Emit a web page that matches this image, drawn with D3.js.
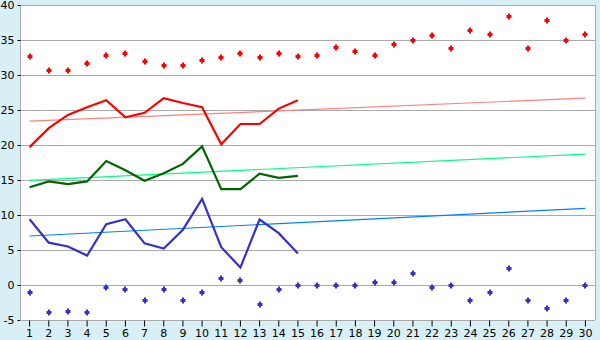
<!DOCTYPE html>
<html>
<head>
<meta charset="utf-8">
<script src="https://cdn.jsdelivr.net/npm/d3@7"></script>
<style>
  html, body { margin: 0; padding: 0; background: #d9eff6; }
  svg { display: block; }
  text { font-family: "DejaVu Sans", Verdana, sans-serif; font-size: 11px; fill: #000; }
</style>
</head>
<body>
<svg width="600" height="340"></svg>
<script>
// ---- data ----
const categories = [1,2,3,4,5,6,7,8,9,10,11,12,13,14,15,16,17,18,19,20,21,22,23,24,25,26,27,28,29,30];
const yTicks = [-5,0,5,10,15,20,25,30,35,40];

const redDots = [32.7,30.7,30.7,31.7,32.8,33.1,32.0,31.5,31.4,32.2,32.5,33.1,32.5,33.1,32.7,
                 32.8,34.0,33.4,32.8,34.4,35.0,35.7,33.8,36.4,35.8,38.4,33.8,37.8,35.0,35.8];
const redLine = [19.7,22.4,24.3,25.4,26.4,23.95,24.6,26.7,26.0,25.4,20.1,23.0,23.0,25.2,26.4];
const greenLine = [13.96,14.8,14.4,14.8,17.7,16.4,14.9,15.95,17.3,19.8,13.7,13.7,15.9,15.3,15.6];
const blueLine = [9.4,6.05,5.5,4.2,8.7,9.4,5.95,5.2,7.9,12.3,5.4,2.5,9.35,7.4,4.5];
const blueDots = [-1.05,-3.9,-3.76,-3.9,-0.33,-0.62,-2.2,-0.62,-2.2,-1.05,0.95,0.67,-2.76,-0.62,0,
                  0,0,0,0.38,0.38,1.67,-0.33,0,-2.2,-1.05,2.38,-2.2,-3.33,-2.2,0];

// trend lines: value at first and last category
const redTrend = [23.4, 26.7];
const greenTrend = [14.95, 18.7];
const blueTrend = [7.0, 10.95];

const width = 600;
const height = 340;
const margin = { top: 5, right: 5, bottom: 20, left: 20 };

const svg = d3.select('svg');

// ======================= SCALES ===============================
const xScale = d3.scaleBand()
    .domain(categories)
    .range([margin.left, width - margin.right]);
const xMid = d => xScale(d) + xScale.bandwidth() / 2;

const yScale = d3.scaleLinear()
    .domain([-5, 40])
    .range([height - margin.bottom, margin.top]);

// plot background
svg.append('rect')
    .attr('x', margin.left).attr('y', margin.top)
    .attr('width', width - margin.left - margin.right)
    .attr('height', height - margin.top - margin.bottom)
    .attr('fill', '#fff');

// ======================= GRID ===============================
svg.append('g')
    .selectAll('line')
    .data(yTicks)
    .enter()
    .append('line')
    .attr('x1', margin.left)
    .attr('x2', width - margin.right)
    .attr('y1', d => Math.round(yScale(d)) + 0.5)
    .attr('y2', d => Math.round(yScale(d)) + 0.5)
    .attr('stroke', '#aaa');

// right border
svg.append('line')
    .attr('x1', width - margin.right + 0.5).attr('x2', width - margin.right + 0.5)
    .attr('y1', margin.top).attr('y2', height - margin.bottom)
    .attr('stroke', '#aaa');

// ======================= AXES ===============================
const yAxis = svg.append('g')
    .attr('transform', `translate(${margin.left + 0.5},0)`)
    .call(d3.axisLeft(yScale).tickValues(yTicks).tickSize(3).tickPadding(3).tickFormat(d => String(d)));
yAxis.select('.domain').attr('stroke', '#aaa').attr('d', `M0,${margin.top}V${height - margin.bottom}`);
yAxis.selectAll('.tick line').attr('stroke', '#000');
yAxis.selectAll('.tick text').style('font-size', '11px').style('font-family', '"DejaVu Sans", Verdana, sans-serif');

const xAxis = svg.append('g')
    .attr('transform', `translate(0,${height - margin.bottom + 0.5})`)
    .call(d3.axisBottom(xScale).tickSize(6).tickPadding(3));
xAxis.select('.domain').attr('stroke', '#aaa').attr('d', `M${margin.left},0H${width - margin.right}`);
xAxis.selectAll('.tick line').attr('stroke', '#000');
xAxis.selectAll('.tick text').style('font-size', '11px').style('font-family', '"DejaVu Sans", Verdana, sans-serif');

// ======================= TREND LINES ===============================
const first = categories[0];
const last = categories[categories.length - 1];
[[redTrend, '#ff8080'], [greenTrend, '#00ff80'], [blueTrend, '#0080ff']].forEach(([t, c]) => {
    svg.append('line')
        .attr('x1', xMid(first)).attr('x2', xMid(last))
        .attr('y1', yScale(t[0])).attr('y2', yScale(t[1]))
        .attr('stroke', c)
        .attr('stroke-width', 1.2);
});

// ======================= LINES ===============================
const lineGen = d3.line()
    .x((d, i) => xMid(categories[i]))
    .y(d => yScale(d));

[[redLine, '#ff0000'], [greenLine, '#006600'], [blueLine, '#3333cc']].forEach(([s, c]) => {
    svg.append('path')
        .attr('d', lineGen(s))
        .attr('fill', 'none')
        .attr('stroke', c)
        .attr('stroke-width', 2.2)
        .attr('stroke-linejoin', 'miter');
});

// ======================= MARKERS ===============================
const marker = 'M-1,-3h2v1.5h1.5v3h-1.5v1.5h-2v-1.5h-1.5v-3h1.5z';
[[redDots, '#ff0000'], [blueDots, '#3333cc']].forEach(([s, c]) => {
    svg.append('g')
        .selectAll('path')
        .data(s)
        .enter()
        .append('path')
        .attr('d', marker)
        .attr('transform', (d, i) => `translate(${Math.round(xMid(categories[i]))},${Math.round(yScale(d)) + 0.5})`)
        .attr('fill', c);
});
</script>
</body>
</html>
